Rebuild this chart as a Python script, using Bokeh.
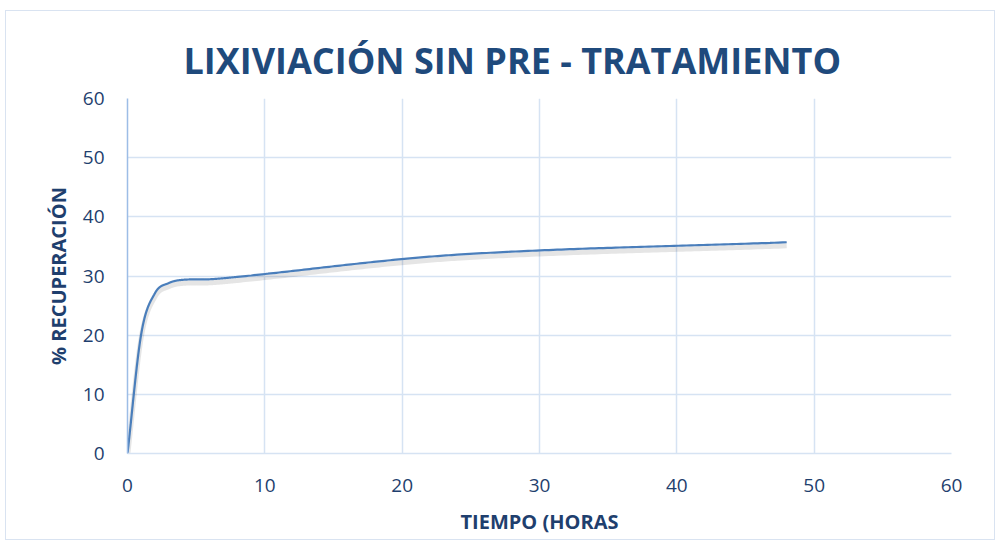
import numpy as np
from bokeh.plotting import figure
from bokeh.models import Range1d, FixedTicker, ColumnDataSource
from bokeh.embed import file_html
from bokeh.resources import INLINE

# Data
time_h = [0, 1, 2, 3, 4, 6, 8, 24, 48]
recovery = [0, 20.2, 27.1, 28.8, 29.35, 29.45, 29.85, 33.6, 35.7]
x_ticks = [0, 10, 20, 30, 40, 50, 60]
y_ticks = [0, 10, 20, 30, 40, 50, 60]

TITLE = "LIXIVIACIÓN SIN PRE - TRATAMIENTO"
XLABEL = "TIEMPO (HORAS"
YLABEL = "% RECUPERACIÓN"


def smooth_line(xs, ys, n=80):
    """Smoothed line through the points (cubic Hermite, central-difference slopes)."""
    x = np.asarray(xs, float)
    y = np.asarray(ys, float)
    m = np.empty_like(y)
    m[0] = (y[1] - y[0]) / (x[1] - x[0])
    m[-1] = (y[-1] - y[-2]) / (x[-1] - x[-2])
    m[1:-1] = (y[2:] - y[:-2]) / (x[2:] - x[:-2])
    ox, oy = [], []
    for i in range(len(x) - 1):
        h = x[i + 1] - x[i]
        s = np.linspace(0, 1, n)
        if i > 0:
            s = s[1:]
        h00 = 2 * s ** 3 - 3 * s ** 2 + 1
        h10 = s ** 3 - 2 * s ** 2 + s
        h01 = -2 * s ** 3 + 3 * s ** 2
        h11 = s ** 3 - s ** 2
        ox.append(x[i] + s * h)
        oy.append(h00 * y[i] + h10 * h * m[i] + h01 * y[i + 1] + h11 * h * m[i + 1])
    return np.concatenate(ox), np.concatenate(oy)


sx, sy = smooth_line(time_h, recovery)
src = ColumnDataSource(dict(x=sx, y=sy, ys=sy - 0.6))

FONT = "Open Sans"
TXT = "#1F3F6E"

p = figure(width=990, height=530, output_backend="svg", toolbar_location=None,
           x_range=Range1d(0, 60), y_range=Range1d(0, 60),
           min_border_left=121, min_border_right=45, min_border_top=87, min_border_bottom=88)

p.title.text = TITLE
p.title.text_font = FONT
p.title.text_font_style = "bold"
p.title.text_font_size = "36px"
p.title.text_color = "#1F4A7C"
p.title.align = "left"
p.title.offset = 56
p.title.standoff = 28

# grid
p.xgrid.ticker = FixedTicker(ticks=x_ticks)
p.ygrid.ticker = FixedTicker(ticks=y_ticks)
for g in (p.xgrid, p.ygrid):
    g.grid_line_color = "#D6E3F3"
    g.grid_line_width = 1.5
p.outline_line_color = None

# axes
p.xaxis.ticker = FixedTicker(ticks=x_ticks)
p.yaxis.ticker = FixedTicker(ticks=y_ticks)
for ax in (p.xaxis, p.yaxis):
    ax.major_tick_line_color = None
    ax.minor_tick_line_color = None
    ax.major_label_text_font = FONT
    ax.major_label_text_font_size = "19px"
    ax.major_label_text_color = TXT
    ax.axis_label_text_font = FONT
    ax.axis_label_text_font_style = "bold"
    ax.axis_label_text_font_size = "20px"
    ax.axis_label_text_color = TXT
p.xaxis.axis_line_color = "#D6E3F3"
p.xaxis.axis_line_width = 1.5
p.yaxis.axis_line_color = "#9DBDE6"
p.yaxis.axis_line_width = 1.5
p.xaxis.axis_label = XLABEL
p.yaxis.axis_label = YLABEL
p.xaxis.major_label_standoff = 19
p.yaxis.major_label_standoff = 17
p.xaxis.axis_label_standoff = 13
p.yaxis.axis_label_standoff = 8

# shadow + line
p.line("x", "ys", source=src, line_color="#000000", line_alpha=0.1, line_width=5)
p.line("x", "y", source=src, line_color="#4A7EBB", line_width=2.2)

p.styles = {"border": "1px solid #D9E3F1", "margin-left": "5px", "margin-top": "10px"}

open("out.html", "w").write(file_html(p, INLINE))
